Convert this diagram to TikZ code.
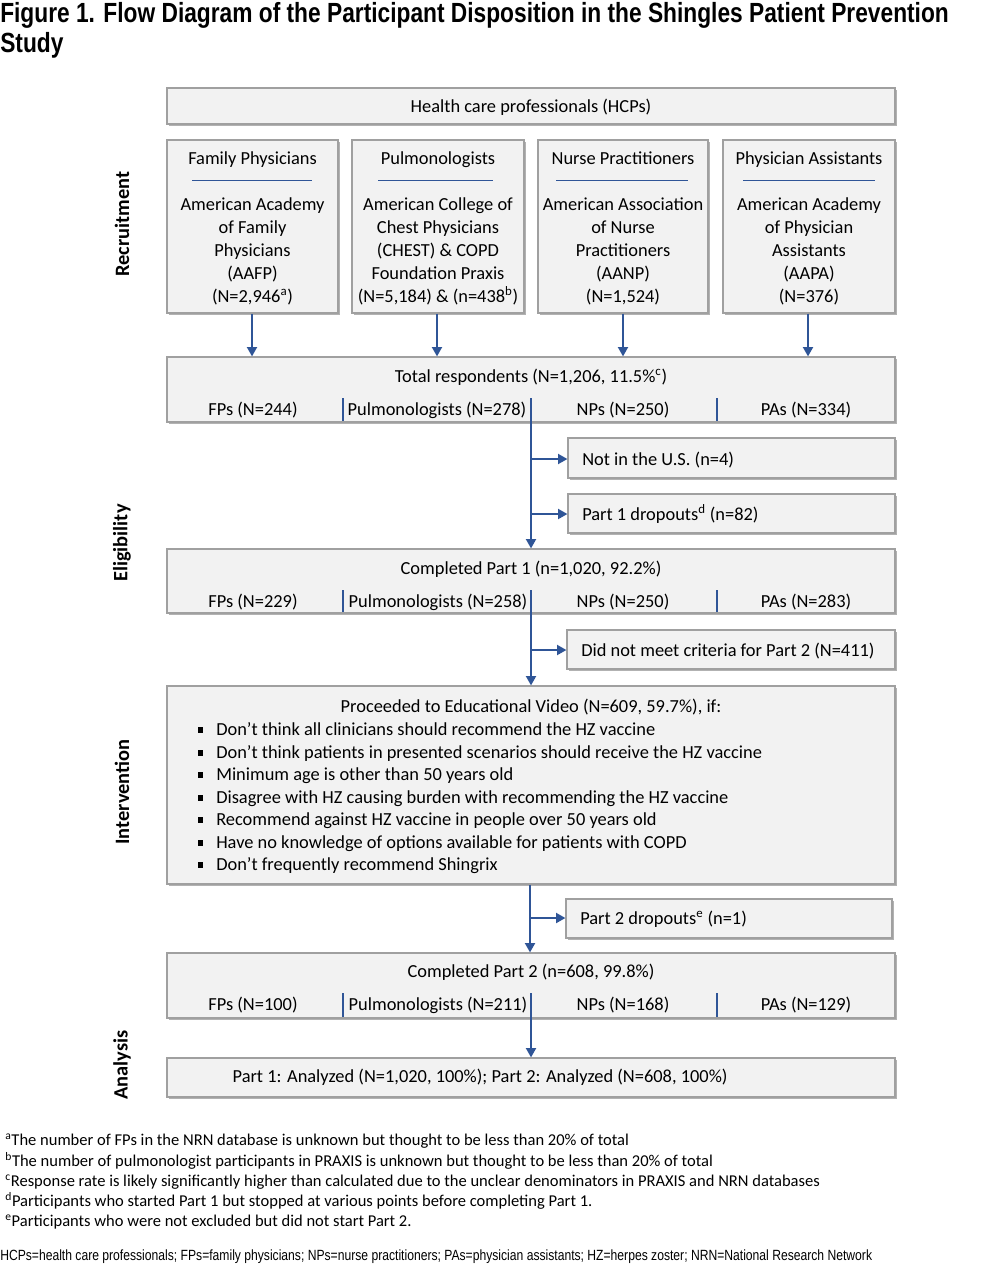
\documentclass[tikz,border=0pt]{standalone}
\usepackage{fontspec}
\setmainfont{Carlito}
\newfontfamily\narrowfont[FakeStretch=0.82]{Liberation Sans}
\usetikzlibrary{arrows.meta,shadows,fit}
\definecolor{boxfill}{HTML}{F2F2F2}
\definecolor{boxline}{HTML}{A0A0A0}
\definecolor{flow}{HTML}{2F5597}
\begin{document}
\begin{tikzpicture}[x=0.75pt,y=-0.75pt,
  box/.style={draw=boxline, fill=boxfill, line width=0.9pt, inner sep=0pt,
    drop shadow={shadow xshift=1.3pt, shadow yshift=-1.3pt, fill=black, opacity=0.3}},
  txt/.style={inner sep=0pt, font=\fontsize{13.8}{17}\selectfont, text height=0.96em, text depth=0.02em},
  ltxt/.style={txt, anchor=west},
  multi/.style={inner sep=0pt, align=center, font=\fontsize{13.8}{17.25}\selectfont},
  side/.style={inner sep=0pt, rotate=90, font=\fontsize{15.3}{18}\selectfont\bfseries},
  note/.style={inner sep=0pt, anchor=west, font=\fontsize{12.4}{15}\selectfont, text height=0.9em, text depth=0.04em},
  ttl/.style={inner sep=0pt, anchor=base west, font=\narrowfont\bfseries\fontsize{20.8}{25}\selectfont},
  flowline/.style={draw=flow, line width=1.4pt},
  arr/.style={flowline, -{Triangle[width=7.5pt,length=7pt]}},
  divider/.style={draw=flow, line width=0.9pt},
  rulel/.style={draw=flow, line width=0.7pt},
  bullet/.style={fill=black},
]
\useasboundingbox (0,0) rectangle (1000,1274);

% Title
\node[ttl] (title1) at (0,22) {Figure 1. Flow Diagram of the Participant Disposition in the Shingles Patient Prevention};
\node[ttl] (title2) at (0,52) {Study};

% Side labels
\node[side] (lrec) at (122,224) {Recruitment};
\node[side] (lelig) at (122,543) {Eligibility};
\node[side] (lint) at (122,792) {Intervention};
\node[side] (lana) at (122,1065) {Analysis};

% HCP box
\node[box, fit={(167,88) (895,124)}] (hcp) {};
\node[txt] (hcpt) at (531,106) {Health care professionals (HCPs)};

% Four recruitment boxes
\node[box, fit={(167,140) (338,313)}] (fp) {};
\node[box, fit={(352,140) (524,313)}] (pu) {};
\node[box, fit={(538,140) (708,313)}] (np) {};
\node[box, fit={(723,140) (895,313)}] (pa) {};

\node[txt] (fpt) at (252.5,158) {Family Physicians};
\node[txt] (put) at (438,158) {Pulmonologists};
\node[txt] (npt) at (623,158) {Nurse Practitioners};
\node[txt] (pat) at (809,158) {Physician Assistants};

\draw[rulel] (192,180) -- (312,180);
\draw[rulel] (378,180) -- (493,180);
\draw[rulel] (556,180) -- (688,180);
\draw[rulel] (743,180) -- (875,180);

\node[multi] (fpb) at (252.5,251.5) {American Academy\\of Family\\Physicians\\(AAFP)\\(N=2,946\textsuperscript{a})};
\node[multi] (pub) at (438,251.5) {American College of\\Chest Physicians\\(CHEST) \& COPD\\Foundation Praxis\\(N=5,184) \& (n=438\textsuperscript{b})};
\node[multi] (npb) at (623,251.5) {American Association\\of Nurse\\Practitioners\\(AANP)\\(N=1,524)};
\node[multi] (pab) at (809,251.5) {American Academy\\of Physician\\Assistants\\(AAPA)\\(N=376)};

% Total respondents
\node[box, fit={(167,357) (895,422)}] (tot) {};
\node[txt] (tott) at (531,376) {Total respondents (N=1,206, 11.5\%\textsuperscript{c})};
\node[txt] (tot1) at (253,409) {FPs (N=244)};
\node[txt] (tot2) at (437,409) {Pulmonologists (N=278)};
\node[txt] (tot3) at (623,409) {NPs (N=250)};
\node[txt] (tot4) at (806,409) {PAs (N=334)};
\draw[divider] (343,398) -- (343,421);
\draw[divider] (717,398) -- (717,421);

\draw[arr] (fp.south -| 252,0) -- (tot.north -| 252,0);
\draw[arr] (pu.south -| 437,0) -- (tot.north -| 437,0);
\draw[arr] (np.south -| 623,0) -- (tot.north -| 623,0);
\draw[arr] (pa.south -| 808,0) -- (tot.north -| 808,0);

% Exclusion boxes 1
\node[box, fit={(568,438) (895,478)}] (notus) {};
\node[ltxt] (notust) at (582,459) {Not in the U.S. (n=4)};
\node[box, fit={(568,494) (895,533)}] (p1d) {};
\node[ltxt] (p1dt) at (582,514) {Part 1 dropouts\textsuperscript{d} (n=82)};

% Completed part 1
\node[box, fit={(167,549) (895,613)}] (c1) {};
\node[txt] (c1t) at (531,568) {Completed Part 1 (n=1,020, 92.2\%)};
\node[txt] (c11) at (253,601) {FPs (N=229)};
\node[txt] (c12) at (438,601) {Pulmonologists (N=258)};
\node[txt] (c13) at (623,601) {NPs (N=250)};
\node[txt] (c14) at (806,601) {PAs (N=283)};
\draw[divider] (343,590) -- (343,612);
\draw[divider] (717,590) -- (717,612);

\coordinate (s1) at (531,398);
\draw[arr] (s1) -- (c1.north -| s1);
\draw[arr] (531,459) -- (notus.west |- 0,459);
\draw[arr] (531,514) -- (p1d.west |- 0,514);

% Not met
\node[box, fit={(567,630) (895,669)}] (nm) {};
\node[ltxt] (nmt) at (581,650) {Did not meet criteria for Part 2 (N=411)};

% Proceeded
\node[box, fit={(167,686) (895,884)}] (pr) {};
\node[txt] (prt) at (531,706) {Proceeded to Educational Video (N=609, 59.7\%), if:};
\foreach \yy/\tt [count=\i] in {729/{Don’t think all clinicians should recommend the HZ vaccine},
  752/{Don’t think patients in presented scenarios should receive the HZ vaccine},
  774/{Minimum age is other than 50 years old},
  797/{Disagree with HZ causing burden with recommending the HZ vaccine},
  819/{Recommend against HZ vaccine in people over 50 years old},
  842/{Have no knowledge of options available for patients with COPD},
  864/{Don’t frequently recommend Shingrix}} {
  \fill[bullet] (197.5,\yy-2) rectangle (203,\yy+3.5);
  \node[ltxt] (b\i) at (216,\yy) {\tt};
}

\coordinate (s2) at (531,590);
\draw[arr] (s2) -- (pr.north -| s2);
\draw[arr] (531,650) -- (nm.west |- 0,650);

% Part 2 dropouts
\node[box, fit={(566,899) (892,938)}] (p2d) {};
\node[ltxt] (p2dt) at (580,918) {Part 2 dropouts\textsuperscript{e} (n=1)};

% Completed part 2
\node[box, fit={(167,953) (895,1018)}] (c2) {};
\node[txt] (c2t) at (531,971) {Completed Part 2 (n=608, 99.8\%)};
\node[txt] (c21) at (253,1004) {FPs (N=100)};
\node[txt] (c22) at (438,1004) {Pulmonologists (N=211)};
\node[txt] (c23) at (623,1004) {NPs (N=168)};
\node[txt] (c24) at (806,1004) {PAs (N=129)};
\draw[divider] (343,993) -- (343,1017);
\draw[divider] (717,993) -- (717,1017);

\draw[arr] (pr.south -| 530,0) -- (c2.north -| 530,0);
\draw[arr] (530,918) -- (p2d.west |- 0,918);

% Analysis
\node[box, fit={(167,1058) (895,1097)}] (an) {};
\node[txt] (ant) at (480,1076) {Part 1: Analyzed (N=1,020, 100\%); Part 2: Analyzed (N=608, 100\%)};
\coordinate (s3) at (531,993);
\draw[arr] (s3) -- (an.north -| s3);

% Footnotes
\node[note] (n1) at (5,1140) {\textsuperscript{a}The number of FPs in the NRN database is unknown but thought to be less than 20\% of total};
\node[note] (n2) at (5,1161) {\textsuperscript{b}The number of pulmonologist participants in PRAXIS is unknown but thought to be less than 20\% of total};
\node[note] (n3) at (5,1181) {\textsuperscript{c}Response rate is likely significantly higher than calculated due to the unclear denominators in PRAXIS and NRN databases};
\node[note] (n4) at (5,1201) {\textsuperscript{d}Participants who started Part 1 but stopped at various points before completing Part 1.};
\node[note] (n5) at (5,1221) {\textsuperscript{e}Participants who were not excluded but did not start Part 2.};

\node[inner sep=0pt, anchor=base west, font=\narrowfont\fontsize{11.1}{13}\selectfont] (abbr) at (0,1260) {HCPs=health care professionals; FPs=family physicians; NPs=nurse practitioners; PAs=physician assistants; HZ=herpes zoster; NRN=National Research Network};
\end{tikzpicture}
\end{document}
